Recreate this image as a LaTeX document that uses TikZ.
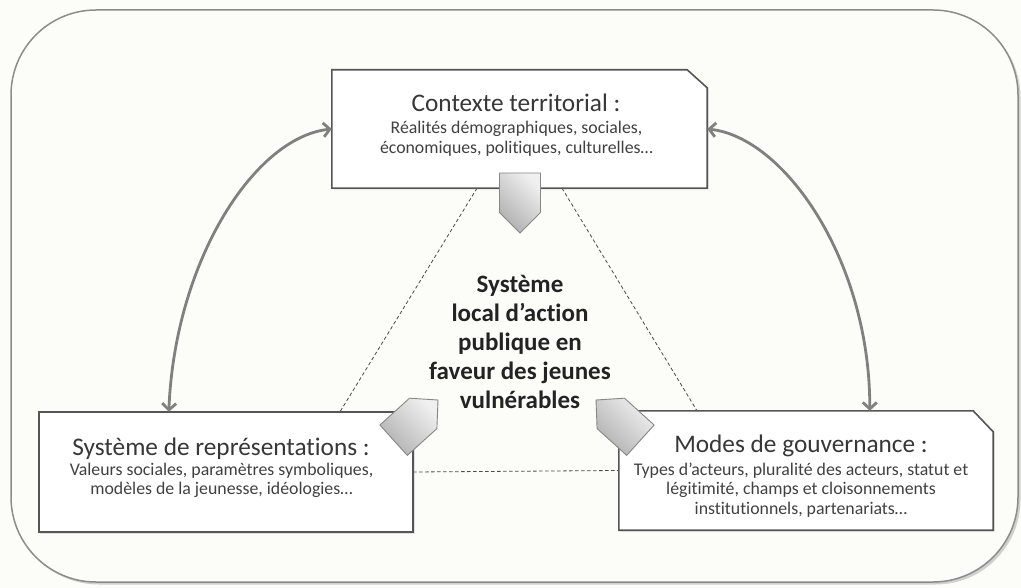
\documentclass[tikz,border=0pt]{standalone}
\usepackage{fontspec}
\setmainfont{Carlito}[Ligatures={NoCommon}]
\usetikzlibrary{arrows.meta,calc,shadows}
\definecolor{bg}{RGB}{252,252,248}
\definecolor{framec}{RGB}{140,140,140}
\definecolor{boxline}{RGB}{85,85,85}
\definecolor{titlec}{RGB}{55,55,55}
\definecolor{subc}{RGB}{65,65,65}
\definecolor{boldc}{RGB}{35,35,35}
\definecolor{arrowc}{RGB}{128,128,128}
\definecolor{dashc}{RGB}{75,75,75}
\definecolor{penline}{RGB}{135,135,135}
\begin{document}
\begin{tikzpicture}[x=1pt,y=-1pt,
  boxnode/.style={rectangle, draw=none, inner sep=0pt},
  boxline/.style={draw=boxline, line width=1.6pt, fill=white, line join=miter,
    drop shadow={opacity=.22, shadow xshift=1.5pt, shadow yshift=-1.5pt}},
  titletxt/.style={font=\fontsize{25.3}{30}\selectfont, text=titlec, inner sep=0pt, anchor=base},
  subtxt/.style={align=center, text=subc, inner sep=0pt},
  conn/.style={draw=arrowc, line width=2.8pt,
    {Straight Barb[length=6.5pt,width=14pt]}-{Straight Barb[length=6.5pt,width=14pt]}},
  dashline/.style={draw=dashc, line width=0.8pt, dash pattern=on 3.5pt off 2.5pt},
  pent/.style={draw=penline, line width=0.9pt, left color=gray!12, right color=gray!62, shading angle=-45}
]
\fill[bg] (0,0) rectangle (1021,588);
\useasboundingbox (0,0) rectangle (1021,588);

% outer frame
\draw[framec, line width=1.5pt, fill=bg, rounded corners=85pt,
  drop shadow={opacity=.35, shadow xshift=2.5pt, shadow yshift=-2.5pt}]
  (11,10) rectangle (1018,582);

% box nodes
\node[boxnode, minimum width=375pt, minimum height=118pt] (T) at (519.5,129) {};
\node[boxnode, minimum width=374pt, minimum height=120pt] (L) at (226,472) {};
\node[boxnode, minimum width=374pt, minimum height=119pt] (R) at (806,470.5) {};

% dashed triangle
\draw[dashline] ($(T.south)+(-42.5,0)$) -- ($(L.north)+(114,0)$);
\draw[dashline] ($(T.south)+(42.5,0)$) -- ($(R.north)+(-109,0)$);
\draw[dashline] (L.east) -- (R.west);

% box outlines
\draw[boxline] (T.north west) -- ($(T.north east)+(-20,0)$) -- ($(T.north east)+(0,18)$)
  -- (T.south east) -- (T.south west) -- cycle;
\draw[boxline] (L.north west) -- (L.north east) -- (L.south east) -- (L.south west) -- cycle;
\draw[boxline] (R.north west) -- ($(R.north east)+(-20,0)$) -- ($(R.north east)+(0,21)$)
  -- (R.south east) -- (R.south west) -- cycle;

% texts
\node[titletxt] (Tt) at (516,112) {Contexte territorial :};
\node[subtxt, font=\fontsize{17.8}{20}\selectfont] (Ts) at (516.5,139)
  {Réalités démographiques, sociales,\\économiques, politiques, culturelles…};
\node[titletxt] (Lt) at (221,455) {Système de représentations :};
\node[subtxt, font=\fontsize{17.8}{18.8}\selectfont] (Ls) at (221.5,480.5)
  {Valeurs sociales, paramètres symboliques,\\modèles de la jeunesse, idéologies…};
\node[titletxt] (Rt) at (801,452) {Modes de gouvernance :};
\node[subtxt, font=\fontsize{17.8}{19.5}\selectfont] (Rs) at (801,490)
  {Types d’acteurs, pluralité des acteurs, statut et\\légitimité, champs et cloisonnements\\institutionnels, partenariats…};

\node[align=center, inner sep=0pt, text=boldc, font=\bfseries\fontsize{25}{29.1}\selectfont] (C) at (520,342)
  {Système\\local d’action\\publique en\\faveur des jeunes\\vulnérables};

% pentagon arrows
\shade[pent] (499.5,173) -- (540.5,173) -- (540.5,212.5) -- (520,233) -- (499.5,212.5) -- cycle;
\shade[pent] (379.9,425) -- (409.5,398.2) -- (438,400) -- (436.9,428.6) -- (407.3,455.4) -- cycle;
\shade[pent] (654.1,425) -- (624.5,398.2) -- (596,400) -- (597.1,428.6) -- (626.7,455.4) -- cycle;

% curved double arrows
\draw[conn] (T.west) .. controls (255,137) and (175,260) .. ($(L.north west)+(130,0)$);
\draw[conn] (T.east) .. controls (784,137) and (870,260) .. ($(R.north west)+(251,0)$);
\end{tikzpicture}
\end{document}
